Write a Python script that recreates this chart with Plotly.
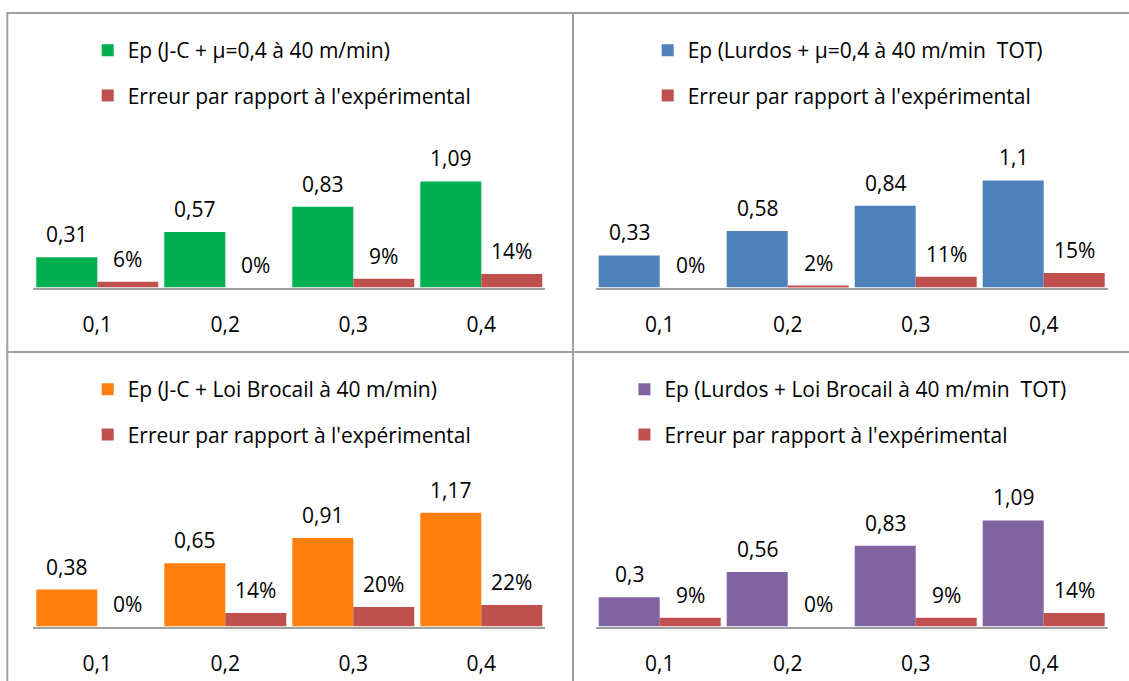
import plotly.graph_objects as go

# ---------------- data ----------------
categories = ["0,1", "0,2", "0,3", "0,4"]

ep_jc_mu = [0.31, 0.57, 0.83, 1.09]
err_jc_mu = [0.06, 0.00, 0.09, 0.14]

ep_lurdos_mu = [0.33, 0.58, 0.84, 1.10]
err_lurdos_mu = [0.00, 0.02, 0.11, 0.15]

ep_jc_brocail = [0.38, 0.65, 0.91, 1.17]
err_jc_brocail = [0.00, 0.14, 0.20, 0.22]

ep_lurdos_brocail = [0.30, 0.56, 0.83, 1.09]
err_lurdos_brocail = [0.09, 0.00, 0.09, 0.14]

names_ep = [
    "Ep (J-C + \u03bc=0,4 \u00e0 40 m/min)",
    "Ep (Lurdos + \u03bc=0,4 \u00e0 40 m/min  TOT)",
    "Ep (J-C + Loi Brocail \u00e0 40 m/min)",
    "Ep (Lurdos + Loi Brocail \u00e0 40 m/min  TOT)",
]
name_err = "Erreur par rapport \u00e0 l'exp\u00e9rimental"

panels = [
    (ep_jc_mu, err_jc_mu, names_ep[0], "#00B050"),
    (ep_lurdos_mu, err_lurdos_mu, names_ep[1], "#4F81BD"),
    (ep_jc_brocail, err_jc_brocail, names_ep[2], "#FF7F0E"),
    (ep_lurdos_brocail, err_lurdos_brocail, names_ep[3], "#8064A2"),
]
ERR_COLOR = "#C0504D"

# ---------------- layout constants (pixels) ----------------
W, H = 1129, 681
FONT = "Open Sans"
PX_PER_UNIT = 97.3
PLOT_H = 167.5
BARGAP = 0.047
# (x_left, x_right, baseline_y, legend_text_x, legend_mid_y)
geo = [
    (33.3, 545.3, 287.5, 127.7, 73),
    (595.7, 1107.7, 287.5, 687.7, 73),
    (33.3, 545.3, 626.5, 127.7, 412),
    (595.7, 1107.7, 626.5, 664.4, 412),
]


def fmt_ep(v):
    return f"{v:g}".replace(".", ",")


def fmt_err(v):
    return f"{round(v * 100)}%"


fig = go.Figure()
annotations = []

for i, ((ep, err, nm, col), (xl, xr, yb, lx, ly)) in enumerate(zip(panels, geo)):
    k = "" if i == 0 else str(i + 1)
    leg = "legend" if i == 0 else f"legend{i + 1}"
    fig.add_trace(go.Bar(
        x=categories, y=ep, name=nm, marker=dict(color=col, line=dict(width=0)),
        xaxis=f"x{k}", yaxis=f"y{k}", legend=leg, legendgroup=f"g{i}a",
        offsetgroup="a",
    ))
    fig.add_trace(go.Bar(
        x=categories, y=err, name=name_err, marker=dict(color=ERR_COLOR, line=dict(width=0)),
        xaxis=f"x{k}", yaxis=f"y{k}", legend=leg, legendgroup=f"g{i}b",
        offsetgroup="b",
    ))

    ymax = PLOT_H / PX_PER_UNIT
    fig.update_layout(**{
        f"xaxis{k}": dict(
            domain=[xl / W, xr / W], anchor=f"y{k}", type="category",
            showline=True, linecolor="#A0A0A0", linewidth=2, ticks="",
            showgrid=False, zeroline=False, ticklabelstandoff=17,
            tickfont=dict(family=FONT, size=21, color="#000000"),
        ),
        f"yaxis{k}": dict(
            domain=[1 - yb / H, 1 - (yb - PLOT_H) / H], anchor=f"x{k}",
            range=[0, ymax], visible=False, showgrid=False, zeroline=False,
        ),
        leg: dict(
            x=(lx - 40) / W, y=1 - ly / H, xanchor="left", yanchor="middle",
            bgcolor="rgba(0,0,0,0)", borderwidth=0, tracegroupgap=15,
            font=dict(family=FONT, size=21, color="#000000"),
        ),
    })

    group_px = (xr - xl) / len(categories) * (1 - BARGAP)
    half = group_px / 4
    for c, v in zip(categories, ep):
        annotations.append(dict(
            x=c, y=v, xref=f"x{k}", yref=f"y{k}", text=fmt_ep(v), showarrow=False,
            xshift=-half, yshift=23, yanchor="middle",
            font=dict(family=FONT, size=21, color="#000000"),
        ))
    for c, v in zip(categories, err):
        annotations.append(dict(
            x=c, y=v, xref=f"x{k}", yref=f"y{k}", text=fmt_err(v), showarrow=False,
            xshift=half, yshift=23, yanchor="middle",
            font=dict(family=FONT, size=21, color="#000000"),
        ))

# panel borders
BORDER = "#A0A0A0"
shapes = [
    dict(type="line", xref="paper", yref="paper", x0=7.3 / W, x1=7.3 / W, y0=0, y1=1 - 13 / H,
         line=dict(color=BORDER, width=2)),
    dict(type="line", xref="paper", yref="paper", x0=573 / W, x1=573 / W, y0=0, y1=1 - 13 / H,
         line=dict(color=BORDER, width=2)),
    dict(type="line", xref="paper", yref="paper", x0=6.3 / W, x1=1, y0=1 - 13 / H, y1=1 - 13 / H,
         line=dict(color=BORDER, width=2)),
    dict(type="line", xref="paper", yref="paper", x0=6.3 / W, x1=1, y0=1 - 352 / H, y1=1 - 352 / H,
         line=dict(color=BORDER, width=2)),
]

fig.update_layout(
    width=W, height=H, margin=dict(l=0, r=0, t=0, b=0),
    paper_bgcolor="white", plot_bgcolor="white",
    barmode="group", bargap=BARGAP, bargroupgap=0,
    showlegend=True, annotations=annotations, shapes=shapes,
    font=dict(family=FONT, color="#000000"),
)

fig.write_html(
    "out.html",
    config={"displayModeBar": False},
    post_script="document.body.style.margin='0';document.body.style.overflow='hidden';",
)
